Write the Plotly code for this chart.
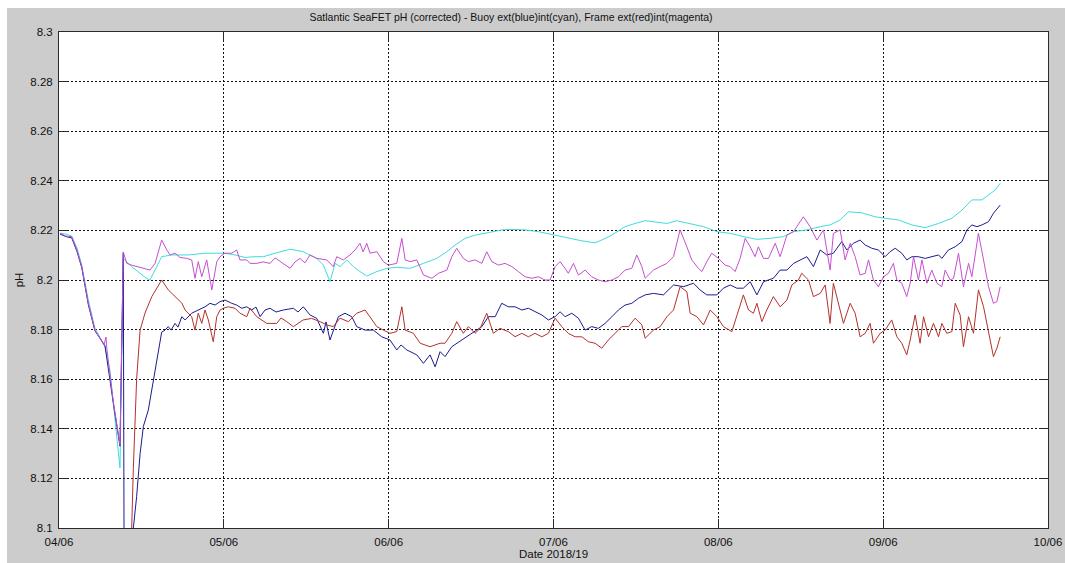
import pandas as pd
import plotly.graph_objects as go

# ---------------- data (days since 04/06, pH) ----------------
start_date = "2018-06-04"

cyan_day = [0.006, 0.042, 0.077, 0.109, 0.138, 0.178, 0.218, 0.249, 0.279, 0.309, 0.340, 0.370,
            0.390, 0.441, 0.492, 0.528, 0.552, 0.583, 0.623, 0.684, 0.785, 0.886, 0.967, 1.007,
            1.068, 1.129, 1.189, 1.240, 1.321, 1.402, 1.482, 1.564, 1.604, 1.644, 1.675, 1.705,
            1.746, 1.786, 1.826, 1.867, 1.928, 1.988, 2.049, 2.130, 2.211, 2.292, 2.353, 2.403,
            2.464, 2.524, 2.605, 2.686, 2.747, 2.828, 2.908, 3.010, 3.090, 3.172, 3.252, 3.293,
            3.354, 3.434, 3.495, 3.556, 3.606, 3.688, 3.748, 3.829, 3.910, 3.991, 4.072, 4.152,
            4.234, 4.314, 4.395, 4.456, 4.537, 4.618, 4.678, 4.739, 4.789, 4.870, 4.951, 5.012,
            5.093, 5.174, 5.255, 5.336, 5.417, 5.478, 5.538, 5.599, 5.639, 5.680, 5.710]
cyan_ph = [8.2189, 8.2185, 8.2177, 8.2129, 8.2060, 8.1919, 8.1806, 8.1770, 8.1730, 8.1637, 8.1435, 8.1242,
           8.2087, 8.2054, 8.2027, 8.2008, 8.2000, 8.2040, 8.2094, 8.2101, 8.2101, 8.2108, 8.2110, 8.2108,
           8.2101, 8.2091, 8.2094, 8.2094, 8.2110, 8.2124, 8.2114, 8.2087, 8.2060, 8.1993, 8.2067, 8.2054,
           8.2081, 8.2054, 8.2034, 8.2016, 8.2034, 8.2047, 8.2051, 8.2047, 8.2067, 8.2087, 8.2114, 8.2141,
           8.2168, 8.2181, 8.2191, 8.2202, 8.2204, 8.2202, 8.2195, 8.2181, 8.2168, 8.2158, 8.2150, 8.2161,
           8.2181, 8.2215, 8.2228, 8.2239, 8.2235, 8.2228, 8.2239, 8.2228, 8.2215, 8.2195, 8.2188, 8.2175,
           8.2164, 8.2168, 8.2175, 8.2195, 8.2202, 8.2215, 8.2222, 8.2242, 8.2275, 8.2271, 8.2255, 8.2249,
           8.2242, 8.2222, 8.2211, 8.2228, 8.2249, 8.2282, 8.2323, 8.2323, 8.2343, 8.2363, 8.2390]

magenta_day = [0.006, 0.042, 0.077, 0.109, 0.138, 0.178, 0.218, 0.249, 0.273, 0.285, 0.291, 0.328, 0.370,
               0.390, 0.411, 0.441, 0.471, 0.512, 0.552, 0.583, 0.623, 0.654, 0.674, 0.704, 0.734,
               0.775, 0.805, 0.825, 0.845, 0.866, 0.896, 0.927, 0.957, 0.977, 1.007, 1.048, 1.078,
               1.098, 1.139, 1.159, 1.200, 1.238, 1.280, 1.311, 1.341, 1.402, 1.432, 1.462, 1.492,
               1.523, 1.564, 1.624, 1.664, 1.685, 1.725, 1.766, 1.796, 1.826, 1.845, 1.867, 1.887,
               1.928, 1.968, 1.998, 2.049, 2.080, 2.100, 2.130, 2.171, 2.211, 2.262, 2.302, 2.353,
               2.383, 2.413, 2.453, 2.484, 2.524, 2.565, 2.595, 2.626, 2.666, 2.706, 2.747, 2.787,
               2.828, 2.868, 2.908, 2.949, 2.979, 3.010, 3.040, 3.070, 3.090, 3.121, 3.151, 3.192,
               3.232, 3.272, 3.313, 3.354, 3.394, 3.434, 3.475, 3.505, 3.536, 3.556, 3.606, 3.647,
               3.688, 3.728, 3.768, 3.809, 3.839, 3.879, 3.900, 3.930, 3.960, 4.001, 4.041, 4.072,
               4.102, 4.132, 4.163, 4.193, 4.223, 4.243, 4.274, 4.304, 4.345, 4.375, 4.416, 4.456,
               4.516, 4.557, 4.598, 4.638, 4.678, 4.698, 4.739, 4.769, 4.800, 4.830, 4.860, 4.891,
               4.911, 4.941, 4.971, 5.002, 5.032, 5.062, 5.083, 5.113, 5.143, 5.164, 5.184, 5.214,
               5.235, 5.265, 5.295, 5.326, 5.356, 5.376, 5.407, 5.427, 5.457, 5.487, 5.518, 5.538,
               5.578, 5.609, 5.639, 5.669, 5.690, 5.710]
magenta_ph = [8.2189, 8.2177, 8.2175, 8.2121, 8.2054, 8.1906, 8.1798, 8.1766, 8.1738, 8.1770, 8.1718, 8.1516, 8.1335,
              8.2113, 8.2067, 8.2060, 8.2054, 8.2047, 8.2040, 8.2067, 8.2161, 8.2121, 8.2101, 8.2108, 8.2091,
              8.2087, 8.2081, 8.2007, 8.2074, 8.2013, 8.2081, 8.1960, 8.2074, 8.2094, 8.2108, 8.2108, 8.2121,
              8.2081, 8.2081, 8.2067, 8.2067, 8.2073, 8.2067, 8.2089, 8.2074, 8.2047, 8.2073, 8.2087, 8.2069,
              8.2101, 8.2087, 8.2081, 8.2054, 8.2094, 8.2081, 8.2101, 8.2121, 8.2148, 8.2113, 8.2148, 8.2108,
              8.2114, 8.2074, 8.2060, 8.2067, 8.2168, 8.2081, 8.2074, 8.2081, 8.2020, 8.2007, 8.2027, 8.2040,
              8.2094, 8.2128, 8.2087, 8.2074, 8.2081, 8.2067, 8.2114, 8.2074, 8.2060, 8.2067, 8.2054, 8.2034,
              8.2013, 8.2007, 8.2013, 8.2000, 8.2000, 8.2054, 8.2074, 8.2047, 8.2027, 8.2067, 8.2020, 8.2040,
              8.2013, 8.2000, 8.1993, 8.2000, 8.2013, 8.2040, 8.2047, 8.2101, 8.2054, 8.2007, 8.2040, 8.2054,
              8.2067, 8.2094, 8.2202, 8.2134, 8.2081, 8.2047, 8.2034, 8.2074, 8.2108, 8.2087, 8.2060, 8.2054,
              8.2034, 8.2087, 8.2168, 8.2134, 8.2094, 8.2134, 8.2087, 8.2087, 8.2148, 8.2094, 8.2181, 8.2195,
              8.2255, 8.2215, 8.2161, 8.2202, 8.2040, 8.2188, 8.2202, 8.2081, 8.2148, 8.2094, 8.2020, 8.2027,
              8.2081, 8.2000, 8.1973, 8.2013, 8.2027, 8.2067, 8.2000, 8.1987, 8.1933, 8.1987, 8.2094, 8.2000,
              8.2081, 8.1987, 8.2040, 8.1987, 8.1973, 8.2040, 8.2000, 8.2007, 8.2108, 8.1973, 8.2067, 8.2013,
              8.2188, 8.2081, 8.1973, 8.1906, 8.1913, 8.1973]

blue_day = [0.006, 0.042, 0.077, 0.109, 0.138, 0.178, 0.218, 0.249, 0.279, 0.328, 0.370, 0.390, 0.396,
            0.451, 0.471, 0.492, 0.512, 0.542, 0.572, 0.593, 0.623, 0.643, 0.663, 0.680, 0.704,
            0.722, 0.745, 0.765, 0.805, 0.845, 0.886, 0.916, 0.947, 0.977, 1.007, 1.048, 1.078,
            1.109, 1.139, 1.169, 1.195, 1.220, 1.250, 1.280, 1.317, 1.361, 1.422, 1.450, 1.482,
            1.523, 1.564, 1.604, 1.620, 1.644, 1.675, 1.695, 1.735, 1.776, 1.806, 1.857, 1.907,
            1.958, 2.008, 2.049, 2.075, 2.110, 2.171, 2.211, 2.251, 2.282, 2.312, 2.342, 2.383,
            2.443, 2.504, 2.565, 2.605, 2.646, 2.686, 2.726, 2.767, 2.808, 2.848, 2.888, 2.929,
            2.969, 3.010, 3.040, 3.070, 3.111, 3.151, 3.192, 3.232, 3.272, 3.313, 3.354, 3.394,
            3.434, 3.475, 3.515, 3.556, 3.606, 3.667, 3.728, 3.789, 3.849, 3.889, 3.930, 3.991,
            4.031, 4.072, 4.112, 4.152, 4.193, 4.234, 4.274, 4.334, 4.375, 4.416, 4.456, 4.496,
            4.537, 4.577, 4.618, 4.658, 4.698, 4.749, 4.779, 4.819, 4.860, 4.891, 4.931, 4.971,
            5.012, 5.042, 5.073, 5.113, 5.143, 5.174, 5.214, 5.255, 5.295, 5.336, 5.356, 5.396,
            5.437, 5.478, 5.508, 5.538, 5.569, 5.599, 5.639, 5.669, 5.710]
blue_ph = [8.2185, 8.2175, 8.2170, 8.2115, 8.2050, 8.1900, 8.1795, 8.1765, 8.1735, 8.1510, 8.1330, 8.2110, 8.0600,
           8.1000, 8.1126, 8.1300, 8.1410, 8.1476, 8.1597, 8.1677, 8.1790, 8.1798, 8.1812, 8.1798, 8.1825,
           8.1810, 8.1852, 8.1839, 8.1866, 8.1879, 8.1892, 8.1906, 8.1899, 8.1913, 8.1919, 8.1906, 8.1899,
           8.1886, 8.1892, 8.1879, 8.1891, 8.1852, 8.1879, 8.1886, 8.1871, 8.1879, 8.1886, 8.1871, 8.1892,
           8.1859, 8.1845, 8.1785, 8.1831, 8.1758, 8.1812, 8.1852, 8.1866, 8.1852, 8.1812, 8.1798, 8.1798,
           8.1771, 8.1758, 8.1718, 8.1738, 8.1718, 8.1698, 8.1664, 8.1698, 8.1650, 8.1711, 8.1691, 8.1731,
           8.1758, 8.1785, 8.1812, 8.1852, 8.1852, 8.1906, 8.1892, 8.1892, 8.1879, 8.1886, 8.1872, 8.1859,
           8.1839, 8.1852, 8.1872, 8.1852, 8.1866, 8.1846, 8.1798, 8.1812, 8.1805, 8.1825, 8.1852, 8.1879,
           8.1899, 8.1906, 8.1926, 8.1940, 8.1946, 8.1940, 8.1980, 8.1973, 8.1987, 8.1960, 8.1940, 8.1940,
           8.1967, 8.1980, 8.1967, 8.1967, 8.1993, 8.1940, 8.1993, 8.2007, 8.2040, 8.2040, 8.2067, 8.2081,
           8.2094, 8.2054, 8.2121, 8.2101, 8.2108, 8.2155, 8.2121, 8.2148, 8.2161, 8.2141, 8.2128, 8.2121,
           8.2094, 8.2114, 8.2128, 8.2108, 8.2081, 8.2094, 8.2094, 8.2087, 8.2094, 8.2101, 8.2087, 8.2121,
           8.2134, 8.2155, 8.2202, 8.2222, 8.2215, 8.2222, 8.2235, 8.2269, 8.2302]

red_day = [0.400, 0.441, 0.451, 0.471, 0.492, 0.512, 0.522, 0.563, 0.623, 0.663, 0.684, 0.724,
           0.745, 0.765, 0.805, 0.825, 0.845, 0.866, 0.886, 0.906, 0.936, 0.957, 0.977, 0.997,
           1.027, 1.068, 1.098, 1.139, 1.159, 1.200, 1.260, 1.321, 1.347, 1.382, 1.422, 1.482,
           1.533, 1.584, 1.624, 1.664, 1.705, 1.755, 1.806, 1.857, 1.887, 1.928, 1.968, 2.008,
           2.049, 2.080, 2.100, 2.150, 2.191, 2.251, 2.312, 2.342, 2.383, 2.413, 2.453, 2.484,
           2.524, 2.555, 2.595, 2.635, 2.676, 2.726, 2.767, 2.808, 2.848, 2.888, 2.929, 2.969,
           3.010, 3.050, 3.090, 3.131, 3.172, 3.212, 3.252, 3.293, 3.333, 3.374, 3.414, 3.455,
           3.495, 3.536, 3.556, 3.606, 3.647, 3.688, 3.728, 3.768, 3.809, 3.829, 3.870, 3.910,
           3.951, 3.991, 4.031, 4.082, 4.112, 4.152, 4.183, 4.213, 4.234, 4.264, 4.294, 4.334,
           4.375, 4.416, 4.446, 4.486, 4.506, 4.547, 4.577, 4.618, 4.648, 4.678, 4.698, 4.729,
           4.759, 4.800, 4.830, 4.860, 4.891, 4.921, 4.941, 4.982, 5.012, 5.052, 5.083, 5.113,
           5.143, 5.164, 5.194, 5.224, 5.245, 5.275, 5.305, 5.336, 5.356, 5.386, 5.417, 5.437,
           5.467, 5.487, 5.518, 5.548, 5.578, 5.609, 5.639, 5.669, 5.690, 5.710]
red_ph = [8.0600, 8.1000, 8.1240, 8.1600, 8.1798, 8.1839, 8.1867, 8.1933, 8.2000, 8.1960, 8.1946, 8.1919,
          8.1907, 8.1879, 8.1852, 8.1798, 8.1866, 8.1825, 8.1879, 8.1839, 8.1751, 8.1852, 8.1879, 8.1886,
          8.1892, 8.1886, 8.1866, 8.1852, 8.1886, 8.1852, 8.1825, 8.1825, 8.1847, 8.1832, 8.1812, 8.1839,
          8.1845, 8.1832, 8.1819, 8.1812, 8.1846, 8.1832, 8.1866, 8.1879, 8.1852, 8.1812, 8.1798, 8.1785,
          8.1792, 8.1892, 8.1798, 8.1785, 8.1745, 8.1731, 8.1745, 8.1745, 8.1785, 8.1832, 8.1785, 8.1812,
          8.1785, 8.1805, 8.1866, 8.1785, 8.1805, 8.1792, 8.1771, 8.1785, 8.1771, 8.1785, 8.1771, 8.1785,
          8.1846, 8.1812, 8.1785, 8.1771, 8.1771, 8.1751, 8.1745, 8.1725, 8.1758, 8.1785, 8.1812, 8.1812,
          8.1846, 8.1819, 8.1765, 8.1798, 8.1812, 8.1852, 8.1879, 8.1973, 8.1953, 8.1866, 8.1852, 8.1819,
          8.1879, 8.1852, 8.1812, 8.1792, 8.1852, 8.1940, 8.1879, 8.1866, 8.1906, 8.1832, 8.1879, 8.1933,
          8.1892, 8.1919, 8.1980, 8.2000, 8.2027, 8.2000, 8.1933, 8.1946, 8.1980, 8.1825, 8.1987, 8.1906,
          8.1825, 8.1906, 8.1866, 8.1771, 8.1785, 8.1825, 8.1745, 8.1785, 8.1798, 8.1839, 8.1771, 8.1745,
          8.1698, 8.1758, 8.1859, 8.1745, 8.1852, 8.1771, 8.1825, 8.1771, 8.1825, 8.1785, 8.1792, 8.1906,
          8.1859, 8.1731, 8.1852, 8.1785, 8.1960, 8.1892, 8.1798, 8.1691, 8.1725, 8.1771]

x_tick_dates = ["2018-06-04", "2018-06-05", "2018-06-06", "2018-06-07",
                "2018-06-08", "2018-06-09", "2018-06-10"]
x_tick_labels = ["04/06", "05/06", "06/06", "07/06", "08/06", "09/06", "10/06"]
y_tick_values = [8.1, 8.12, 8.14, 8.16, 8.18, 8.2, 8.22, 8.24, 8.26, 8.28, 8.3]
y_tick_labels = ["8.1", "8.12", "8.14", "8.16", "8.18", "8.2", "8.22", "8.24", "8.26", "8.28", "8.3"]

title_text = "Satlantic SeaFET pH (corrected) - Buoy ext(blue)int(cyan), Frame ext(red)int(magenta)"

# ---------------- figure ----------------
base = pd.Timestamp(start_date)


def to_dates(days):
    return [base + pd.Timedelta(days=d) for d in days]


FONT = "Liberation Sans, Arial, sans-serif"
TXT = "#111111"

fig = go.Figure()
series = [
    (cyan_day, cyan_ph, "#40dcd8", "Buoy int"),
    (blue_day, blue_ph, "#1c1c8f", "Buoy ext"),
    (red_day, red_ph, "#b3322c", "Frame ext"),
    (magenta_day, magenta_ph, "#c64fd0", "Frame int"),
]
for d, v, c, n in series:
    fig.add_trace(go.Scatter(x=to_dates(d), y=v, mode="lines", name=n,
                             line=dict(color=c, width=1), showlegend=False))

# full-window figure (page margin removed by post_script)
W, H = 1065, 563
ml, mr, mt, mb = 59, 17, 32, 35
pw, ph_ = W - ml - mr, H - mt - mb


def pxx(px):
    return (px - ml) / pw


def pxy(py):
    return (H - mb - py) / ph_


axis_common = dict(showgrid=True, gridcolor="#111111", gridwidth=1, griddash="2px,2px",
                   showline=True, linecolor="#2a2a2a", linewidth=1, mirror="ticks",
                   ticks="inside", tickcolor="#2a2a2a", zeroline=False, automargin=False,
                   tickfont=dict(family=FONT, size=11.5, color=TXT))

fig.update_layout(
    width=W, height=H,
    margin=dict(l=ml, r=mr, t=mt, b=mb, pad=0, autoexpand=False),
    paper_bgcolor="#cccccc",
    plot_bgcolor="#ffffff",
    hovermode=False,
    title=dict(text=title_text, x=511 / W, xanchor="center", y=1 - 17 / H, yanchor="middle",
               font=dict(family=FONT, size=10.5, color=TXT)),
    xaxis=dict(range=[x_tick_dates[0], x_tick_dates[-1]], tickvals=x_tick_dates,
               ticktext=x_tick_labels, ticklen=9, ticklabelstandoff=3,
               ticklabeloverflow="allow",
               title=dict(text="Date 2018/19", standoff=0,
                          font=dict(family=FONT, size=11.5, color=TXT)),
               **axis_common),
    yaxis=dict(range=[8.1, 8.3], tickvals=y_tick_values, ticktext=y_tick_labels, ticklen=9,
               ticklabelstandoff=3,
               title=dict(text="pH", standoff=4,
                          font=dict(family=FONT, size=11.5, color=TXT)),
               **axis_common),
    shapes=[
        dict(type="rect", xref="paper", yref="paper",
             x0=pxx(0), x1=pxx(W), y0=pxy(8), y1=pxy(0),
             fillcolor="#ffffff", line=dict(width=0), layer="above"),
        dict(type="rect", xref="paper", yref="paper",
             x0=pxx(0), x1=pxx(7), y0=pxy(H), y1=pxy(0),
             fillcolor="#ffffff", line=dict(width=0), layer="above"),
    ],
)

fig.write_html("out.html",
               config={"displayModeBar": False, "staticPlot": True},
               post_script="document.body.style.margin='0';document.body.style.overflow='hidden';")
